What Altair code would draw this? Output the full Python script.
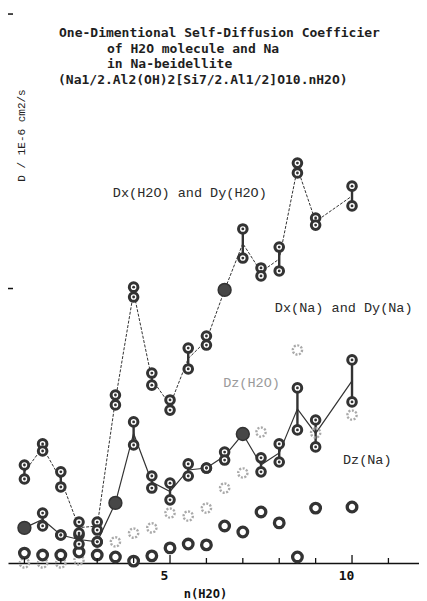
import altair as alt
import pandas as pd

# ---- data (D in units of 1E-6 cm2/s) ----
n = [1, 1.5, 2, 2.5, 3, 3.5, 4, 4.5, 5, 5.5, 6, 6.5, 7, 7.5, 8, 8.5, 9, 10]
dx_h2o = [0.357, 0.434, 0.332, 0.149, 0.149, 0.612, 1.005, 0.692, 0.594, 0.783,
          0.827, 0.995, 1.217, 1.075, 1.151, 1.457, 1.257, 1.373]
dy_h2o = [0.306, 0.408, 0.277, 0.109, 0.120, 0.576, 0.969, 0.648, 0.557, 0.707,
          0.794, 0.995, 1.111, 1.046, 1.064, 1.421, 1.231, 1.301]
dx_na = [0.128, 0.182, 0.102, 0.102, 0.077, 0.219, 0.514, 0.317, 0.291, 0.361,
         0.346, 0.404, 0.470, 0.383, 0.434, 0.638, 0.521, 0.740]
dy_na = [0.128, 0.135, 0.102, 0.069, 0.077, 0.219, 0.430, 0.273, 0.230, 0.317,
         0.346, 0.375, 0.470, 0.332, 0.368, 0.485, 0.423, 0.587]
dz_na = [0.036, 0.029, 0.029, 0.040, 0.029, 0.022, 0.007, 0.026, 0.055, 0.069,
         0.066, 0.135, 0.113, 0.186, 0.146, 0.022, 0.200, 0.204]
n_dz_h2o = [1, 1.5, 2, 2.5, 3.5, 4, 4.5, 5, 5.5, 6, 6.5, 7, 7.5, 8.5, 9, 10]
dz_h2o = [0.0, 0.0, 0.0, 0.011, 0.077, 0.109, 0.128, 0.182, 0.171, 0.200,
          0.273, 0.328, 0.477, 0.776, 0.474, 0.539]
# points where Dx and Dy coincide and print as a solid blot
solid_h2o_n = [6.5]
solid_na_n = [1, 3.5, 7]

x_minor_ticks = [1, 2, 3, 4, 6, 7, 8, 9, 11]
x_major_ticks = [5, 10]
y_tick_values = [1, 2]

title_line1 = "One-Dimentional Self-Diffusion Coefficier"
title_mid = ["of H2O molecule and Na", "in Na-beidellite"]
title_line4 = "(Na1/2.Al2(OH)2[Si7/2.Al1/2]O10.nH2O)"
labels = ["Dx(H2O) and Dy(H2O)", "Dx(Na) and Dy(Na)", "Dz(H2O)", "Dz(Na)"]
label_n = [3.43, 7.88, 6.46, 9.75]
label_v = [1.348, 0.929, 0.656, 0.375]

# ---- tables ----
pairs = pd.concat([
    pd.DataFrame({"n": n, "dx": dx_h2o, "dy": dy_h2o, "sp": "H2O"}),
    pd.DataFrame({"n": n, "dx": dx_na, "dy": dy_na, "sp": "Na"}),
])
pairs["mid"] = (pairs["dx"] + pairs["dy"]) / 2
pts = pd.concat([
    pairs[["n", "sp"]].assign(v=pairs["dx"]),
    pairs[["n", "sp"]].assign(v=pairs["dy"]),
])
solid = pd.concat([
    pairs[(pairs.sp == "H2O") & pairs.n.isin(solid_h2o_n)],
    pairs[(pairs.sp == "Na") & pairs.n.isin(solid_na_n)],
])
solid = solid.assign(v=solid["mid"])
dzna_df = pd.DataFrame({"n": n, "v": dz_na})
dzh2o_df = pd.DataFrame({"n": n_dz_h2o, "v": dz_h2o})
lab_df = pd.DataFrame({"t": labels, "n": label_n, "v": label_v})
xminor_df = pd.DataFrame({"n": x_minor_ticks})
xmajor_df = pd.DataFrame({"n": x_major_ticks})
yt_df = pd.DataFrame({"v": y_tick_values})

DARK = "#333333"
GRAY = "#a9a9a9"
MONO = "DejaVu Sans Mono"
SERIF_MONO = "Liberation Mono"

xscale = alt.Scale(domain=[0.549, 11.84], nice=False, zero=False)
yscale = alt.Scale(domain=[0, 2.022], nice=False, zero=False)
xaxis = alt.Axis(values=x_major_ticks, ticks=False, grid=False, domain=True,
                 domainColor="#111", domainWidth=1.6, labelFont=MONO,
                 labelFontWeight="bold", labelFontSize=13, labelColor="#111",
                 labelPadding=6, labelOffset=-6, title="n(H2O)", titleFont=MONO,
                 titleFontWeight="bold", titleFontSize=12, titleColor="#111",
                 titleX=197, titleY=30, titleBaseline="middle")
yaxis = alt.Axis(domain=False, ticks=False, labels=False, grid=False,
                 title="D / 1E-6 cm2/s", titleFont=SERIF_MONO, titleFontSize=11,
                 titleFontWeight="normal", titleColor="#222", titleAngle=270,
                 titleX=13, titleY=127, titleBaseline="middle")


def X(f="n"):
    return alt.X(f"{f}:Q", scale=xscale, axis=xaxis)


def Y(f="v"):
    return alt.Y(f"{f}:Q", scale=yscale, axis=yaxis)


def title_text(lines, x, y):
    df = pd.DataFrame({"t": ["\n".join(lines)]})
    return alt.Chart(df).mark_text(
        align="left", baseline="alphabetic", font=MONO, fontWeight="bold",
        fontSize=13, lineBreak="\n", lineHeight=15.7, color="#1e1e1e").encode(
        x=alt.value(x), y=alt.value(y), text="t:N")


rules = alt.Chart(pairs).mark_rule(color=DARK, strokeWidth=2.4).encode(
    x=X(), y=Y("dx"), y2="dy")
line_h2o = alt.Chart(pairs[pairs.sp == "H2O"]).mark_line(
    color=DARK, strokeWidth=1, strokeDash=[3, 1.5]).encode(x=X(), y=Y("mid"))
line_na = alt.Chart(pairs[pairs.sp == "Na"]).mark_line(
    color=DARK, strokeWidth=1.2).encode(x=X(), y=Y("mid"))
dz_h2o_pts = alt.Chart(dzh2o_df).mark_point(
    shape="circle", size=85, filled=False, stroke=GRAY, strokeWidth=2.4,
    strokeDash=[2, 1.5], opacity=1).encode(x=X(), y=Y())
dz_na_pts = alt.Chart(dzna_df).mark_point(
    shape="circle", size=92, fill="white", fillOpacity=1, stroke=DARK,
    strokeWidth=3.3, opacity=1).encode(x=X(), y=Y())
circles = alt.Chart(pts).mark_point(
    shape="circle", size=74, fill="white", fillOpacity=1, stroke=DARK,
    strokeWidth=3, opacity=1).encode(x=X(), y=Y())
dots = alt.Chart(pts).mark_point(
    shape="circle", size=8, filled=True, color=DARK, opacity=1).encode(x=X(), y=Y())
blots = alt.Chart(solid).mark_point(
    shape="circle", size=165, filled=True, color="#474747", stroke=DARK,
    strokeWidth=1.5, opacity=1).encode(x=X(), y=Y())
xticks_minor = alt.Chart(xminor_df).mark_rule(color="#111", strokeWidth=1.3).encode(
    x=X(), y=alt.value(555), y2=alt.value(550))
xticks_major = alt.Chart(xmajor_df).mark_rule(color="#111", strokeWidth=1.3).encode(
    x=X(), y=alt.value(555), y2=alt.value(547))
yticks = alt.Chart(yt_df).mark_rule(color="#111", strokeWidth=1.5).encode(
    y=Y(), x=alt.value(0), x2=alt.value(5))
lab = alt.Chart(lab_df).mark_text(
    align="left", baseline="middle", font=SERIF_MONO, fontSize=13.5).encode(
    x=X(), y=Y(), text="t:N",
    color=alt.condition("datum.t == 'Dz(H2O)'", alt.value("#9a9a9a"), alt.value("#2a2a2a")))
t1 = title_text([title_line1], 51, 29)
t2 = title_text(title_mid, 99, 44.7)
t4 = title_text([title_line4], 50, 76)

chart = alt.layer(
    rules, line_h2o, line_na, dz_h2o_pts, dz_na_pts, circles, dots, blots,
    xticks_minor, xticks_major, yticks, lab, t1, t2, t4
).properties(
    width=411, height=555,
    autosize=alt.AutoSizeParams(type="none"),
    padding={"left": 0, "top": 0, "right": 0, "bottom": 40},
    background="white",
).configure_view(stroke=None)

chart.save("out.html", embed_options={"renderer": "svg", "actions": False})
